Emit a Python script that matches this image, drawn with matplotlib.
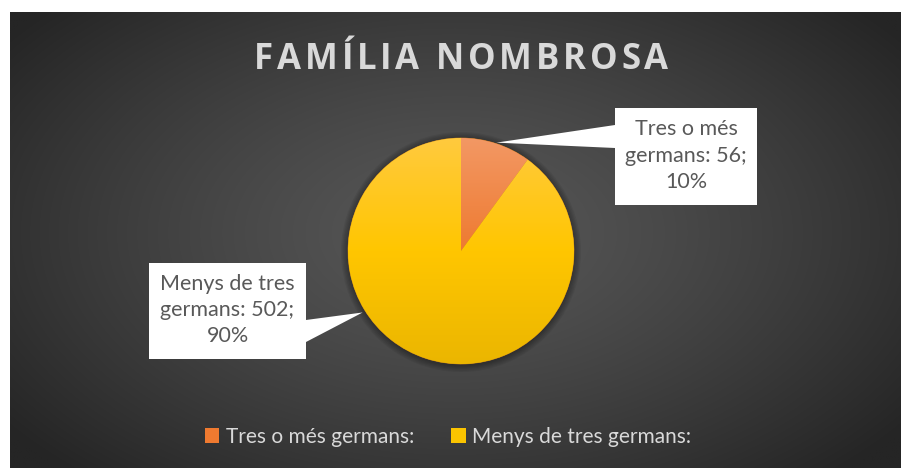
import numpy as np
import matplotlib.pyplot as plt
from matplotlib.patches import Polygon, Circle, Patch
from matplotlib.colors import LinearSegmentedColormap

# data
categories = ['Tres o més germans:', 'Menys de tres germans:']
values = [56, 502]
title = 'FAMÍLIA NOMBROSA'

# colours (top -> bottom of the gradient)
grad_colors = [['#f39864', '#ee7a30', '#e46a18'],
               ['#ffca3e', '#ffc600', '#ebb600']]
legend_colors = ['#ef7a30', '#fbc400']

W, H = 901, 468
fig = plt.figure(figsize=(W / 100, H / 100), dpi=100)
fig.patch.set_facecolor('white')
ax = fig.add_axes([0, 0, 1, 1])

# dark radial background
x0, y_top = 10, H - 12
xs = np.linspace(x0, W, 450)
ys = np.linspace(0, y_top, 230)
X, Y = np.meshgrid(xs, ys)
d = np.sqrt(((X - 455) / 560) ** 2 + ((Y - 235) / 330) ** 2)
d = np.clip(d, 0, 1)
v = (0x57 - (0x57 - 0x25) * d ** 1.3) / 255.0
bg = np.dstack([v, v, v])
ax.imshow(bg, extent=(x0, W, 0, y_top), origin='lower', zorder=0,
          interpolation='bilinear', aspect='auto')

# pie
cx, cy, r = 461, H - 251, 113

# soft shadow
for k in range(6):
    ax.add_patch(Circle((cx, cy - 1), r + 1 + k * 1.2, facecolor='black',
                        alpha=0.06, edgecolor='none', zorder=1))

wedges, _ = ax.pie(values, startangle=90, counterclock=False, center=(cx, cy),
                   radius=r, colors=legend_colors,
                   wedgeprops=dict(linewidth=0.5, edgecolor='#c07a20'))
for w, cols in zip(wedges, grad_colors):
    w.set_zorder(2)
    cmap = LinearSegmentedColormap.from_list('g', cols[::-1])
    grad = np.linspace(0, 1, 256).reshape(-1, 1)
    im = ax.imshow(grad, cmap=cmap, extent=(cx - r, cx + r, cy - r, cy + r),
                   origin='lower', aspect='auto', zorder=3)
    im.set_clip_path(w)

ax.set_xlim(0, W)
ax.set_ylim(0, H)
ax.set_aspect('auto')
ax.axis('off')

# callout labels
total = sum(values)
labels = [f'Tres o més\ngermans: {values[0]};\n{values[0] / total * 100:.0f}%',
          f'Menys de tres\ngermans: {values[1]};\n{values[1] / total * 100:.0f}%']

w0 = wedges[0]
tip_angles = [(w0.theta1 + w0.theta2) / 2, 212]
tip_radius = [114, 116]
boxes = [(615, 263, 757, 360), (149, 109, 306, 205)]
bases = [(320, 343), (126, 148)]


def callout(box, base, tip):
    bx0, by0, bx1, by1 = box
    lo, hi = base
    if tip[0] < bx0:
        pts = [(bx0, by1), (bx1, by1), (bx1, by0), (bx0, by0),
               (bx0, lo), tip, (bx0, hi)]
    else:
        pts = [(bx0, by1), (bx1, by1), (bx1, hi), tip, (bx1, lo),
               (bx1, by0), (bx0, by0)]
    ax.add_patch(Polygon(pts, closed=True, facecolor='white',
                         edgecolor='none', zorder=5))


for lab, ang, rr, box, base in zip(labels, tip_angles, tip_radius, boxes, bases):
    a = np.deg2rad(ang)
    tip = (cx + rr * np.cos(a), cy + rr * np.sin(a))
    callout(box, base, tip)
    ax.text((box[0] + box[2]) / 2, (box[1] + box[3]) / 2 + 1, lab, ha='center',
            va='center', fontsize=15.5, family='Lato', color='#595959',
            linespacing=1.4, zorder=6)

# title with letter spacing
renderer = fig.canvas.get_renderer()
spacing = 3.8
chars = [ax.text(0, H - 60, ch, ha='left', va='center', fontsize=25,
                 fontweight='bold', family='Open Sans', color='#d9d9d9', zorder=6)
         for ch in title]
widths = []
for t in chars:
    if t.get_text() == ' ':
        t.set_text('\u00a0')
    widths.append(t.get_window_extent(renderer).width)
xpos = 461 - (sum(widths) + spacing * (len(chars) - 1)) / 2
for t, wd in zip(chars, widths):
    t.set_x(xpos)
    xpos += wd + spacing

# legend
handles = [Patch(facecolor=c, edgecolor='none') for c in legend_colors]
leg = ax.legend(handles, categories, loc='center', bbox_to_anchor=(448 / W, 31 / H),
                ncol=2, frameon=False, handlelength=0.7, handleheight=0.7,
                handletextpad=0.3, columnspacing=1.8,
                prop={'family': 'Lato', 'size': 15}, labelcolor='#d9d9d9')

fig.savefig('out.png', dpi=100, facecolor='white')
